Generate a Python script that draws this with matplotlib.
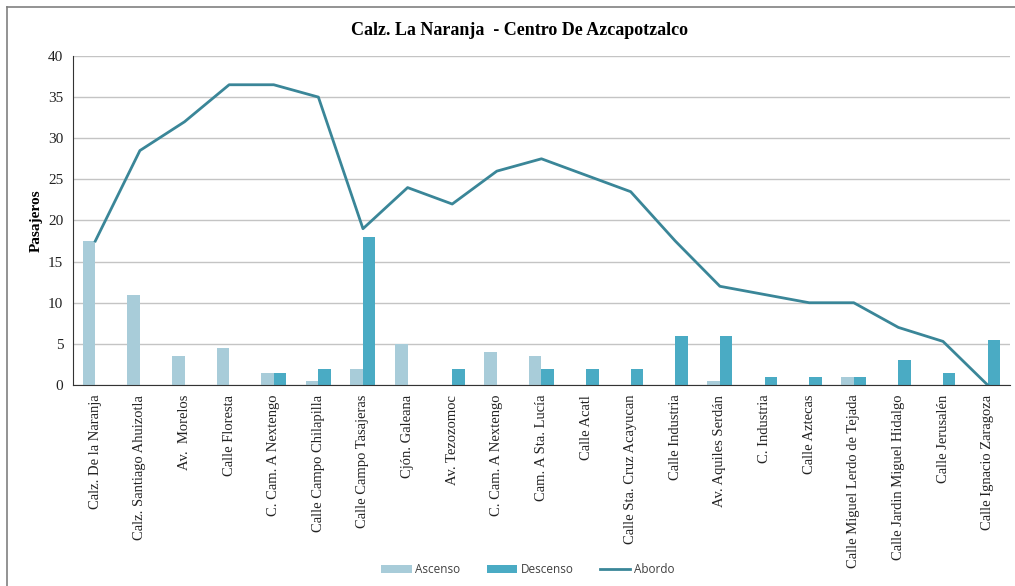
# pasajeros por parada: Calz. La Naranja - Centro De Azcapotzalco

import matplotlib.pyplot as plt
import numpy as np
from matplotlib.lines import Line2D

paradas = ["Calz. De la Naranja", "Calz. Santiago Ahuizotla", "Av.  Morelos",
           "Calle Floresta", "C. Cam. A Nextengo", "Calle Campo Chilapilla",
           "Calle Campo Tasajeras", "Cjón. Galeana", "Av. Tezozomoc",
           "C. Cam. A Nextengo", "Cam. A Sta. Lucía", "Calle Acatl",
           "Calle Sta. Cruz Acayucan", "Calle Industria", "Av. Aquiles Serdán",
           "C. Industria", "Calle Aztecas", "Calle Miguel Lerdo de Tejada",
           "Calle Jardin Miguel Hidalgo", "Calle Jerusalén", "Calle Ignacio Zaragoza"]

ascenso = [17.5, 11, 3.5, 4.5, 1.5, 0.5, 2, 5, 0, 4, 3.5, 0, 0, 0, 0.5, 0, 0, 1, 0, 0, 0]
descenso = [0, 0, 0, 0, 1.5, 2, 18, 0, 2, 0, 2, 2, 2, 6, 6, 1, 1, 1, 3, 1.5, 5.5]
abordo = [17.5, 28.5, 32, 36.5, 36.5, 35, 19, 24, 22, 26, 27.5, 25.5, 23.5, 17.5,
          12, 11, 10, 10, 7, 5.3, 0]

c_asc = "#a8ccd9"
c_desc = "#4aabc4"
c_abo = "#3a8698"

serif = ["Liberation Serif", "DejaVu Serif"]

fig = plt.figure(figsize=(10.15, 5.86), dpi=100)
ax = fig.add_axes([0.0719, 0.343, 0.9231, 0.5615])

x = np.arange(len(paradas))
w = 0.28
b1 = ax.bar(x - w/2, ascenso, w, color=c_asc, label="Ascenso", zorder=2)
b2 = ax.bar(x + w/2, descenso, w, color=c_desc, label="Descenso", zorder=2)
l1, = ax.plot(x, abordo, color=c_abo, lw=2.0, label="Abordo", zorder=3)

ax.set_xlim(-0.5, len(paradas) - 0.5)
ax.set_ylim(0, 40)
ax.set_yticks(range(0, 41, 5))
ax.yaxis.grid(True, color="#c4c4c4", lw=1.0)
ax.set_axisbelow(True)

ax.set_xticks(x)
ax.set_xticklabels(paradas, rotation=90, family=serif, fontsize=10.5, color="#222222")
for lab in ax.get_yticklabels():
    lab.set_family(serif)
    lab.set_fontsize(11)
    lab.set_color("#222222")
ax.tick_params(length=0, pad=7)

for s in ["top", "right"]:
    ax.spines[s].set_visible(False)
ax.spines["left"].set_color("#333333")
ax.spines["bottom"].set_color("#333333")

ax.set_ylabel("Pasajeros", family=serif, fontweight="bold", fontsize=11, labelpad=4)
fig.text(0.512, 0.948, "Calz. La Naranja  - Centro De Azcapotzalco", ha="center",
         va="center", family=serif, fontweight="bold", fontsize=13)

leg = fig.legend([b1, b2, l1], ["Ascenso", "Descenso", "Abordo"], loc="center",
                 bbox_to_anchor=(0.52, 0.028), ncol=3, frameon=False,
                 prop={"family": "Open Sans", "size": 8.5}, handlelength=2.6,
                 handleheight=0.6, handletextpad=0.3, columnspacing=2.2)
for t in leg.get_texts():
    t.set_color("#404040")

# outer chart border (only top and left are in frame)
fig.add_artist(Line2D([7/1015, 1], [1 - 7/586, 1 - 7/586], color="#808080", lw=1.2))
fig.add_artist(Line2D([7/1015, 7/1015], [0, 1 - 7/586], color="#808080", lw=1.2))

plt.savefig("out.png", dpi=100)
